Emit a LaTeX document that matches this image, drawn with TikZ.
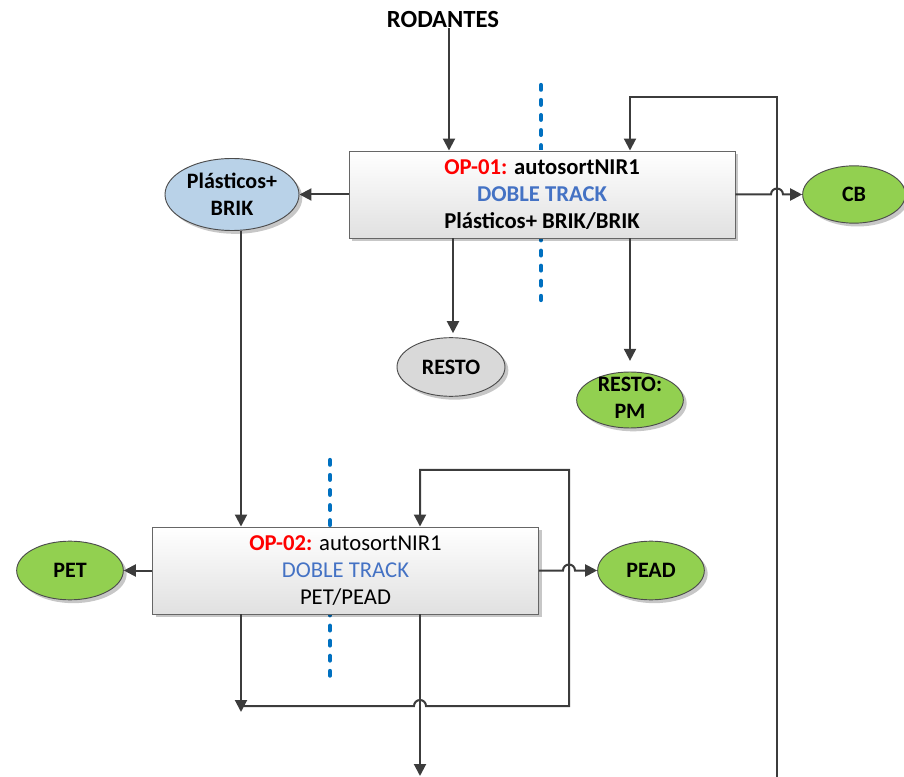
\documentclass[tikz,border=0pt]{standalone}
\usepackage{fontspec}
\setmainfont{Carlito}
\usetikzlibrary{arrows.meta,shapes.geometric,shadows,calc}
\definecolor{ln}{RGB}{60,60,60}
\definecolor{opred}{RGB}{255,0,0}
\definecolor{dtblue}{RGB}{68,114,196}
\definecolor{dotblue}{RGB}{0,112,192}
\definecolor{grn}{RGB}{146,208,80}
\definecolor{lblue}{RGB}{185,210,232}
\definecolor{lgray}{RGB}{217,217,217}
\begin{document}
\begin{tikzpicture}[x=0.75pt,y=-0.75pt,
  conn/.style={draw=ln,line width=1.5pt},
  arr/.style={conn,-{Triangle[length=9pt,width=9pt]}},
  shad/.style={drop shadow={shadow xshift=2.5pt,shadow yshift=-2.5pt,fill=black,opacity=0.22}},
  opbox/.style={rectangle,draw=black!60,line width=0.7pt,top color=white,bottom color=black!12,shad,
    minimum width=289.5pt,minimum height=65.25pt,align=center,inner sep=0pt,
    font=\fontsize{17pt}{20.25pt}\selectfont},
  ell/.style={ellipse,draw=black!70,line width=0.7pt,inner sep=0pt,shad},
  etxt/.style={align=center,inner sep=0pt,font=\fontsize{16.5pt}{20.25pt}\selectfont\bfseries},
  dots/.style={dotblue,line width=3.2pt,line cap=round,dash pattern=on 3.5pt off 7.8pt},
  title/.style={font=\fontsize{18.5pt}{20pt}\selectfont\bfseries,inner sep=0pt}
]
\useasboundingbox (0,0) rectangle (904,777);

% reference coordinates
\coordinate (xrod) at (449,0);
\coordinate (xr1) at (453,0);
\coordinate (xr2) at (630,0);
\coordinate (xloop) at (777,0);
\coordinate (ytop1) at (0,97);
\coordinate (ybot) at (0,777);
\coordinate (xpb) at (241,0);
\coordinate (xmid) at (420,0);
\coordinate (xright) at (569,0);
\coordinate (ytop2) at (0,470);
\coordinate (yh) at (0,706);
\coordinate (yhtip) at (0,712);
\coordinate (yend) at (0,776);
\coordinate (d1a) at (541,85);
\coordinate (d1b) at (541,300);
\coordinate (d2a) at (330,460);
\coordinate (d2b) at (330,682);

% blue dotted separators (behind boxes)
\draw[dots] (d1a) -- (d1b);
\draw[dots] (d2a) -- (d2b);

% title
\node[title] (rod) at (443,20) {RODANTES};

% process boxes
\node[opbox] (op1) at (542,194.5) {\bfseries\textcolor{opred}{OP-01:} autosortNIR1\\\bfseries\textcolor{dtblue}{DOBLE TRACK}\\\bfseries Plásticos+ BRIK/BRIK};
\node[opbox] (op2) at (345.5,570.5) {\textbf{\textcolor{opred}{OP-02:}} autosortNIR1\\\textcolor{dtblue}{DOBLE TRACK}\\PET/PEAD};

% ellipses
\node[ell,fill=lblue,minimum width=100.5pt,minimum height=54pt] (pb) at (232,194.5) {};
\node[etxt] (pbt) at (pb) {Plásticos+\\BRIK};
\node[ell,fill=grn,minimum width=77pt,minimum height=43pt] (cb) at (854,194.5) {};
\node[etxt] (cbt) at (cb) {CB};
\node[ell,fill=lgray,minimum width=81pt,minimum height=44pt] (resto) at (451,367) {};
\node[etxt] (restot) at (resto) {RESTO};
\node[ell,fill=grn,minimum width=80pt,minimum height=42pt] (rpm) at (630,400) {};
\node[etxt] (rpmt) at (630,398) {RESTO:\\PM};
\node[ell,fill=grn,minimum width=80pt,minimum height=44pt] (pet) at (70,570.5) {};
\node[etxt] (pett) at (pet) {PET};
\node[ell,fill=grn,minimum width=80pt,minimum height=44pt] (pead) at (651,570.5) {};
\node[etxt] (peadt) at (pead) {PEAD};

% connectors OP-01
\draw[arr] (rod.south -| xrod) -- (xrod |- op1.north);
\draw[arr] (xloop |- ybot) -- (xloop |- ytop1) -- (xr2 |- ytop1) -- (xr2 |- op1.north);
\draw[arr] (op1.west) -- (pb.east);
\draw[arr] (op1.east) -- ($(xloop |- op1.east)+(-6,0)$) arc[start angle=180,end angle=360,radius=6] -- (cb.west);
\draw[arr,shorten >=3pt] (xr1 |- op1.south) -- (xr1 |- resto.north);
\draw[arr,shorten >=8pt] (xr2 |- op1.south) -- (xr2 |- rpm.north);

% connectors OP-02
\draw[arr] (pb.south -| xpb) -- (xpb |- op2.north);
\draw[arr] (op2.west) -- (pet.east);
\draw[arr] (op2.east) -- ($(xright |- op2.east)+(-6,0)$) arc[start angle=180,end angle=360,radius=6] -- (pead.west);
\draw[arr] (xpb |- op2.south) -- (xpb |- yhtip);
\draw[arr] (xpb |- yh) -- ($(xmid |- yh)+(-6,0)$) arc[start angle=180,end angle=360,radius=6] -- (xright |- yh) -- (xright |- ytop2) -- (xmid |- ytop2) -- (xmid |- op2.north);
\draw[arr] (xmid |- op2.south) -- (xmid |- yend);
\end{tikzpicture}
\end{document}
